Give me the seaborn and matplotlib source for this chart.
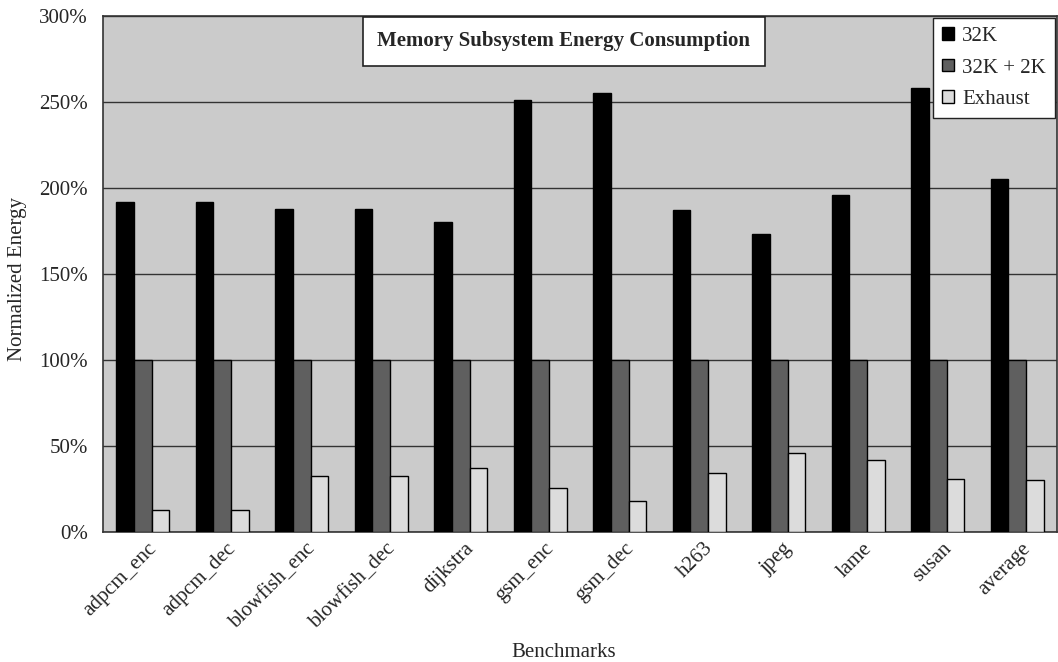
import numpy as np
import pandas as pd
import matplotlib
matplotlib.use("Agg")
import matplotlib.pyplot as plt
import seaborn as sns
from matplotlib.ticker import FuncFormatter, FixedLocator
import matplotlib.transforms as mtrans

benchmarks = ['adpcm_enc', 'adpcm_dec', 'blowfish_enc', 'blowfish_dec', 'dijkstra',
              'gsm_enc', 'gsm_dec', 'h263', 'jpeg', 'lame', 'susan', 'average']
e_32k = [192, 192, 188, 188, 180, 251, 255, 187, 173, 196, 258, 205]
e_32k_2k = [100, 100, 100, 100, 100, 100, 100, 100, 100, 100, 100, 100]
e_exhaust = [13, 13, 32.5, 32.5, 37, 25.5, 18, 34.5, 46, 42, 31, 30]
series = ['32K', '32K + 2K', 'Exhaust']

df = pd.DataFrame({
    'bench': benchmarks * 3,
    'config': [s for s in series for _ in benchmarks],
    'energy': e_32k + e_32k_2k + e_exhaust,
})

sns.set_style("white")
plt.rcParams['font.family'] = ['Liberation Serif', 'DejaVu Serif']
fs = 15

fig = plt.figure(figsize=(10.58, 6.62), dpi=100)
ax = fig.add_axes([103 / 1058, 1 - 532 / 662, 1 - 103 / 1058 - 0.001, (532 - 16) / 662])
ax.set_facecolor('#cbcbcb')

palette = {'32K': '#000000', '32K + 2K': '#5f5f5f', 'Exhaust': '#dcdcdc'}
sns.barplot(data=df, x='bench', y='energy', hue='config', palette=palette,
            width=0.67, gap=0, edgecolor='black', linewidth=1.0, ax=ax, zorder=3)

ax.set_ylim(0, 300)
ax.set_xlim(-0.5, len(benchmarks) - 0.5)
ax.set_yticks(np.arange(0, 301, 50))
ax.yaxis.set_major_formatter(FuncFormatter(lambda v, p: f"{int(v)}%"))
ax.grid(axis='y', color='#333333', linewidth=1.0, zorder=1)
ax.set_axisbelow(True)

ax.set_xticks(range(len(benchmarks)))
ax.set_xticklabels(benchmarks, rotation=45, ha='right', rotation_mode='anchor', fontsize=fs)
ax.tick_params(axis='x', which='major', length=0, pad=5)
shift = mtrans.ScaledTranslation(4 / 100, 0, fig.dpi_scale_trans)
for lbl in ax.get_xticklabels():
    lbl.set_transform(lbl.get_transform() + shift)
ax.xaxis.set_minor_locator(FixedLocator(np.arange(-0.5, len(benchmarks), 1)))
ax.tick_params(axis='x', which='minor', length=7, width=1, color='#333333', direction='out')
ax.tick_params(axis='y', length=6, width=1, color='#333333', direction='out', labelsize=fs, pad=5)

for s in ax.spines.values():
    s.set_color('#333333')
    s.set_linewidth(1.2)

ax.set_xlabel('Benchmarks', fontsize=fs, va='center')
ax.xaxis.set_label_coords(0.483, -0.233)
ax.set_ylabel('Normalized Energy', fontsize=fs, va='center')
ax.yaxis.set_label_coords(-0.09, 0.49)

ax.text(0.483, 0.951, 'Memory Subsystem Energy Consumption', transform=ax.transAxes,
        ha='center', va='center', fontsize=fs, fontweight='bold', zorder=5,
        bbox=dict(boxstyle='square,pad=0.7', facecolor='white', edgecolor='#222222', linewidth=1.2))

leg = ax.legend(loc='upper right', bbox_to_anchor=(1.0, 1.0), frameon=True, fancybox=False,
                fontsize=fs, handlelength=0.55, handleheight=0.55, handletextpad=0.4,
                borderpad=0.45, labelspacing=0.6, borderaxespad=0.08)
leg.get_frame().set_edgecolor('#222222')
leg.get_frame().set_linewidth(1.0)
leg.get_frame().set_facecolor('white')
leg.get_frame().set_alpha(1)
leg.set_zorder(6)

fig.savefig('out.png', dpi=100)
